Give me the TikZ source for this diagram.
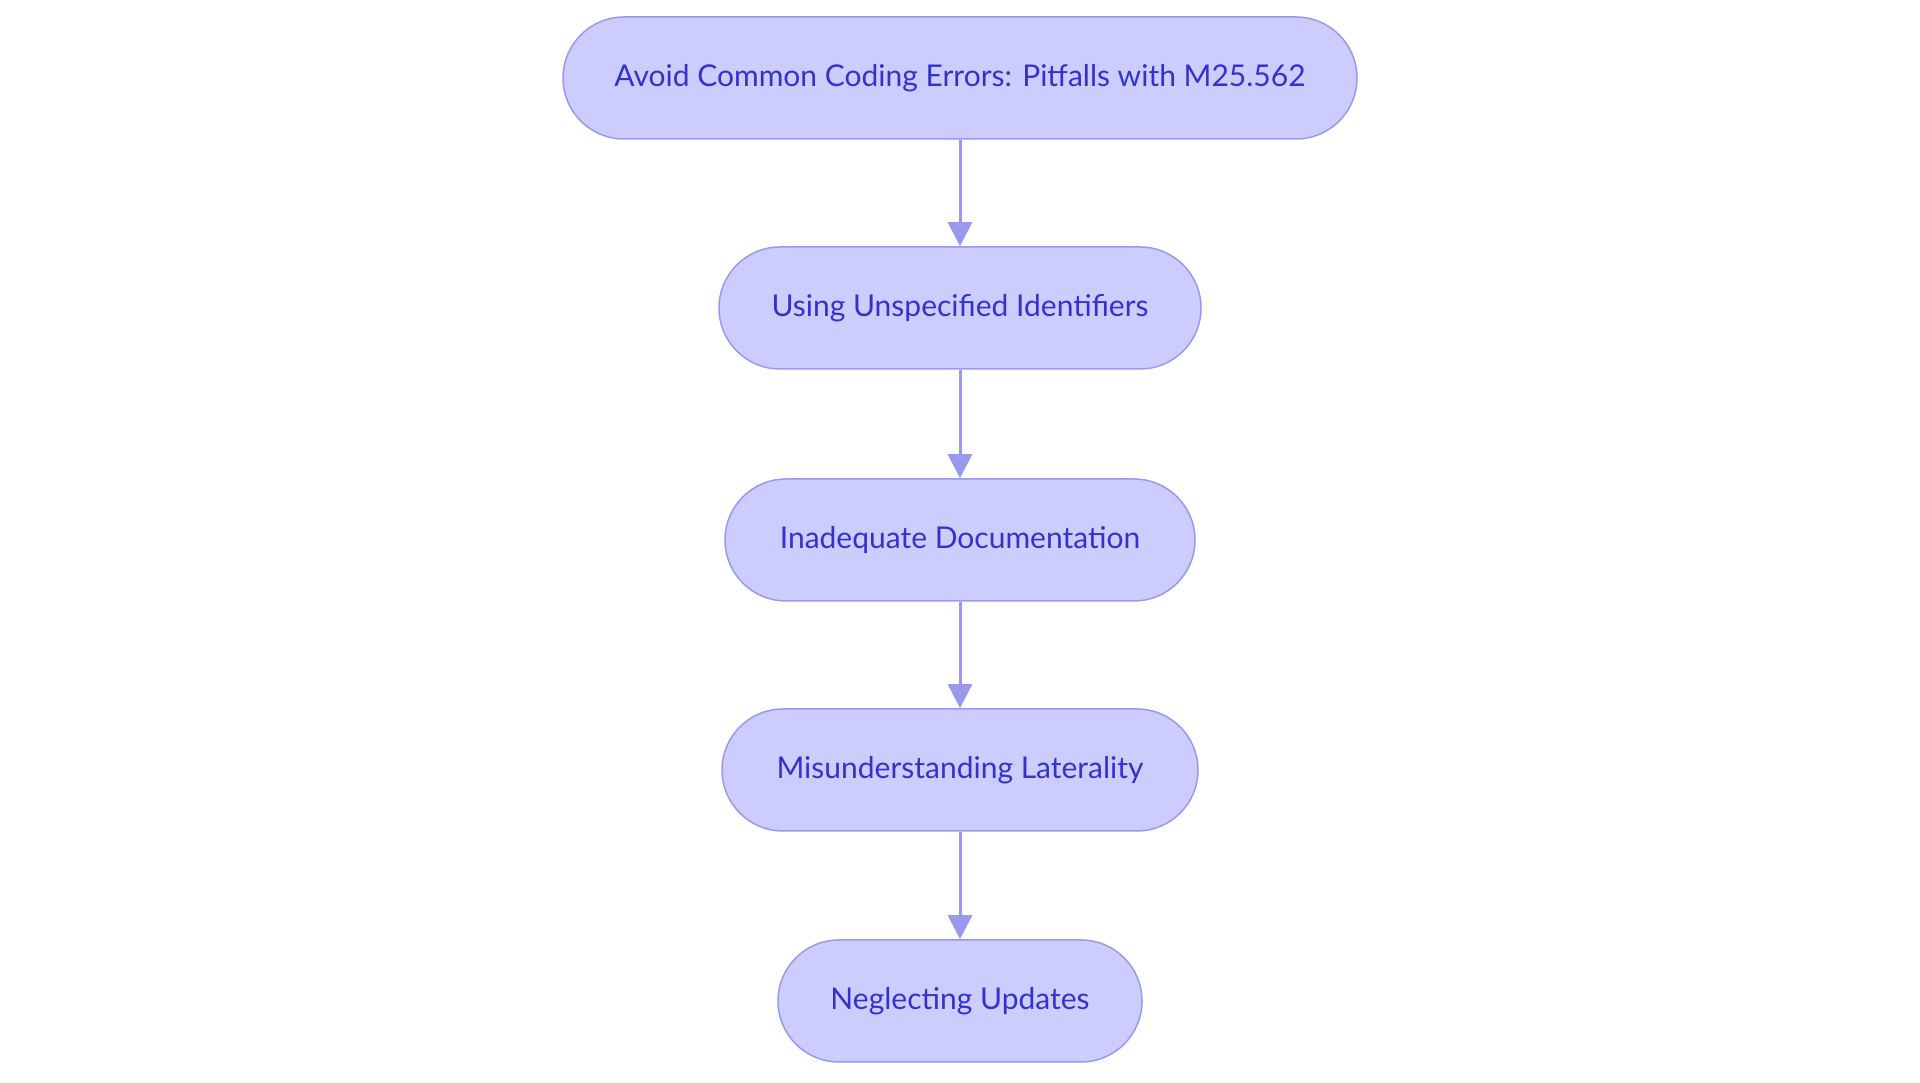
\documentclass[tikz,border=0pt]{standalone}
\usepackage{fontspec}
\setmainfont{Lato}
\usetikzlibrary{arrows.meta}
\definecolor{nfill}{HTML}{CCCCFF}
\definecolor{nline}{HTML}{9999EE}
\definecolor{ntext}{HTML}{3333CC}
\begin{document}
\begin{tikzpicture}[x=1pt,y=1pt,
  box/.style={draw=nline,line width=1.5pt,fill=nfill,rounded corners=61pt,minimum height=122pt,text=ntext,font=\fontsize{30}{36}\selectfont,inner sep=0pt},
  arr/.style={draw=nline,line width=3pt,-{Triangle[length=24pt,width=24pt]}}]
\useasboundingbox (0,0) rectangle (1920,1083);
\node[box,minimum width=794pt] (a) at (960,1005) {Avoid Common Coding Errors: Pitfalls with M25.562};
\node[box,minimum width=482pt] (b) at (960,775) {Using Unspecified Identifiers};
\node[box,minimum width=470pt] (c) at (960,543) {Inadequate Documentation};
\node[box,minimum width=476pt] (d) at (960,313) {Misunderstanding Laterality};
\node[box,minimum width=364pt] (e) at (960,82) {Neglecting Updates};
\draw[arr] (a) -- (b);
\draw[arr] (b) -- (c);
\draw[arr] (c) -- (d);
\draw[arr] (d) -- (e);
\end{tikzpicture}
\end{document}
